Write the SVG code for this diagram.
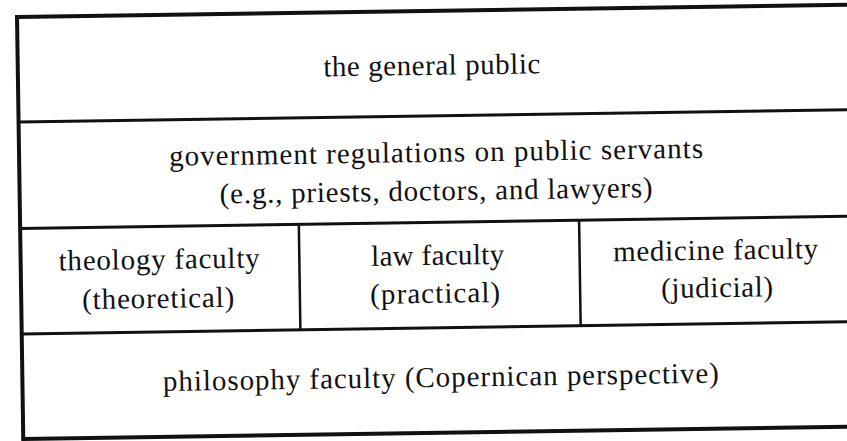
<svg xmlns="http://www.w3.org/2000/svg" width="847" height="441" viewBox="0 0 847 441">
  <style>
    .t { font-family: "Liberation Serif", "Times New Roman", serif; font-size: 29px; fill: #111; text-anchor: middle; }
    .outer { stroke: #111; stroke-width: 4; fill: none; }
    .inner { stroke: #111; stroke-width: 3; fill: none; }
    .vert { stroke: #111; stroke-width: 2.5; fill: none; }
  </style>
  <rect x="0" y="0" width="847" height="441" fill="#ffffff"/>
  <g transform="rotate(-0.85 17 16)">
    <g id="grid">
      <line class="outer" x1="17" y1="17" x2="870" y2="17"/>
      <line class="outer" x1="17" y1="15" x2="17" y2="441"/>
      <line class="outer" x1="17" y1="439" x2="870" y2="439"/>
      <line class="inner" x1="17" y1="122" x2="870" y2="122"/>
      <line class="inner" x1="17" y1="228.5" x2="870" y2="228.5"/>
      <line class="inner" x1="17" y1="334" x2="870" y2="334"/>
      <line class="vert" x1="295.7" y1="228.5" x2="295.7" y2="334"/>
      <line class="vert" x1="576" y1="228.5" x2="576" y2="334"/>
    </g>
    <g id="general-public">
      <text class="t" x="431" y="81" textLength="217" lengthAdjust="spacing">the general public</text>
    </g>
    <g id="government-regulations">
      <text class="t" x="434" y="168" textLength="534" lengthAdjust="spacing">government regulations on public servants</text>
      <text class="t" x="433.5" y="206.5" textLength="433" lengthAdjust="spacing">(e.g., priests, doctors, and lawyers)</text>
    </g>
    <g id="theology-faculty">
      <text class="t" x="155.5" y="271" textLength="201" lengthAdjust="spacing">theology faculty</text>
      <text class="t" x="154" y="310" textLength="152" lengthAdjust="spacing">(theoretical)</text>
    </g>
    <g id="law-faculty">
      <text class="t" x="434" y="271" textLength="133" lengthAdjust="spacing">law faculty</text>
      <text class="t" x="431" y="309" textLength="130" lengthAdjust="spacing">(practical)</text>
    </g>
    <g id="medicine-faculty">
      <text class="t" x="712" y="270" textLength="205" lengthAdjust="spacing">medicine faculty</text>
      <text class="t" x="713" y="307.5" textLength="112" lengthAdjust="spacing">(judicial)</text>
    </g>
    <g id="philosophy-faculty">
      <text class="t" x="435.5" y="393" textLength="556" lengthAdjust="spacing">philosophy faculty (Copernican perspective)</text>
    </g>
  </g>
</svg>
